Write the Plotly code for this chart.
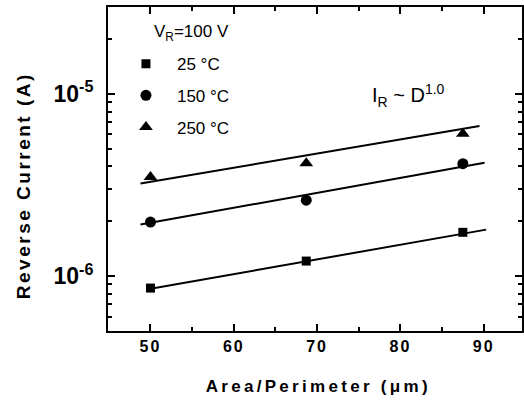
import plotly.graph_objects as go
import math

# ---- data ----
area_perimeter = [50, 68.7, 87.5]
i_25 = [8.6e-7, 1.21e-6, 1.74e-6]
i_150 = [1.98e-6, 2.61e-6, 4.14e-6]
i_250 = [3.5e-6, 4.17e-6, 6.04e-6]

fit_x_25 = [49.5, 90.3]
fit_y_25 = [8.45e-7, 1.80e-6]
fit_x_150 = [48.8, 90.1]
fit_y_150 = [1.92e-6, 4.19e-6]
fit_x_250 = [48.8, 89.5]
fit_y_250 = [3.22e-6, 6.67e-6]

x_ticks = [50, 60, 70, 80, 90]
x_minor = [45, 55, 65, 75, 85]
y_ticks = [1e-6, 1e-5]
y_ticktext = ["10<sup>-6</sup>", "10<sup>-5</sup>"]
y_minor = [6e-7, 7e-7, 8e-7, 9e-7, 2e-6, 3e-6, 4e-6, 5e-6, 6e-6, 7e-6, 8e-6, 9e-6, 2e-5, 3e-5]

series = [
    ("25 °C", i_25, "square", 9),
    ("150 °C", i_150, "circle", 11),
    ("250 °C", i_250, "triangle-up", 12),
]
fits = [(fit_x_25, fit_y_25), (fit_x_150, fit_y_150), (fit_x_250, fit_y_250)]

FONT = "Arial, Liberation Sans, sans-serif"

fig = go.Figure()
for fx, fy in fits:
    fig.add_trace(go.Scatter(x=fx, y=fy, mode="lines",
                             line=dict(color="black", width=2),
                             showlegend=False, hoverinfo="skip"))
for i, (name, vals, sym, sz) in enumerate(series):
    fig.add_trace(go.Scatter(x=area_perimeter, y=vals, mode="markers", name=name,
                             marker=dict(symbol=sym, size=sz, color="black"),
                             legendgroup=f"g{i}"))

# 0: fit law label
fig.add_annotation(x=0.632, y=0.728, xref="paper", yref="paper",
                   text="I<sub>R</sub> ~ D<sup>1.0</sup>", showarrow=False,
                   xanchor="left", yanchor="middle",
                   font=dict(family=FONT, size=20, color="black"))
# 1: x title
fig.add_annotation(x=0.508, y=-0.171, xref="paper", yref="paper",
                   text="Area/Perimeter (μm)", showarrow=False,
                   xanchor="center", yanchor="middle",
                   font=dict(family=FONT, size=17, color="black", weight="bold"))
# 2: y title
fig.add_annotation(x=-0.2043, y=0.4506, xref="paper", yref="paper",
                   text="Reverse Current (A)", showarrow=False, textangle=-90,
                   xanchor="center", yanchor="middle",
                   font=dict(family=FONT, size=19, color="black", weight="bold"))
# 3: legend heading
fig.add_annotation(x=0.106, y=0.921, xref="paper", yref="paper",
                   text="V<sub>R</sub>=100 V", showarrow=False,
                   xanchor="left", yanchor="middle",
                   font=dict(family=FONT, size=17, color="black"))

fig.update_layout(
    width=524, height=402,
    margin=dict(l=108, r=0, t=7, b=71),
    paper_bgcolor="white", plot_bgcolor="white",
    font=dict(family=FONT, color="black"),
    legend=dict(x=0.0168, y=0.879, xanchor="left", yanchor="top",
                bgcolor="rgba(0,0,0,0)", borderwidth=0,
                font=dict(family=FONT, size=17, color="black"),
                tracegroupgap=6.5, itemwidth=52),
    showlegend=True,
)

fig.update_xaxes(
    range=[44.9, 94.6], tickmode="array", tickvals=x_ticks,
    ticks="inside", ticklen=7, tickwidth=1.5, tickcolor="black",
    showline=True, linewidth=2, linecolor="black", mirror="ticks",
    showgrid=False, zeroline=False,
    tickfont=dict(family=FONT, size=16, color="black", weight="bold"),
    minor=dict(tickmode="array", tickvals=x_minor, ticks="inside", ticklen=4,
               tickwidth=1.5, tickcolor="black", showgrid=False),
)
fig.update_yaxes(
    type="log", range=[math.log10(5e-7), math.log10(3e-5)],
    tickmode="array", tickvals=y_ticks, ticktext=y_ticktext,
    ticks="inside", ticklen=7, tickwidth=1.5, tickcolor="black",
    showline=True, linewidth=2, linecolor="black", mirror="ticks",
    showgrid=False, zeroline=False, ticklabelstandoff=8,
    tickfont=dict(family=FONT, size=23, color="black", weight="bold"),
    minor=dict(tickmode="array", tickvals=y_minor, ticks="inside", ticklen=4,
               tickwidth=1.5, tickcolor="black", showgrid=False),
)

post = """
var a1 = document.querySelector('g.annotation[data-index="1"] text');
if (a1) a1.style.letterSpacing = '3.3px';
var a2 = document.querySelector('g.annotation[data-index="2"] text');
if (a2) a2.style.letterSpacing = '2.5px';
document.querySelectorAll('.xtick text').forEach(e=>e.style.letterSpacing='2px');
"""
fig.write_html("out.html", post_script=post)
